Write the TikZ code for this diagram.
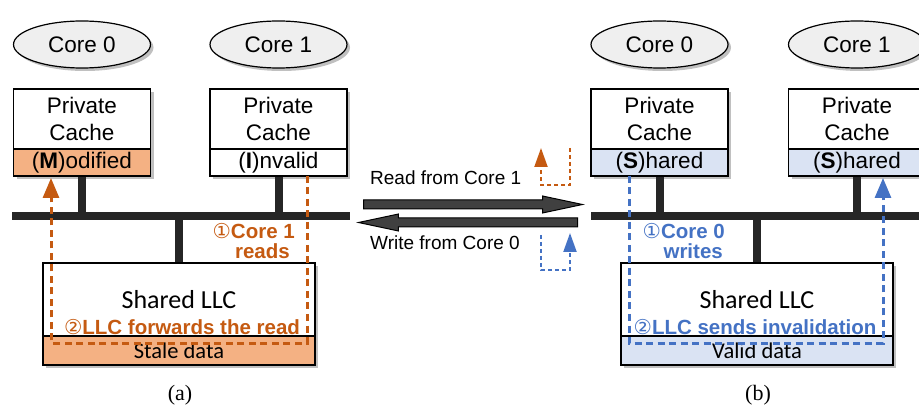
\documentclass[tikz,border=0pt]{standalone}
\usepackage{fontspec}
\setmainfont{Liberation Sans}
\newfontfamily\llcfont{Carlito}
\newfontfamily\capfont{Liberation Serif}
\newfontfamily\numfont{DejaVu Sans}
\usetikzlibrary{arrows.meta}
\usetikzlibrary{shapes.geometric}
\usetikzlibrary{shapes.arrows}
\usetikzlibrary{shadows}
\usetikzlibrary{positioning}

\definecolor{ordark}{HTML}{C55A11}
\definecolor{orfill}{HTML}{F4B183}
\definecolor{bldark}{HTML}{4472C4}
\definecolor{blfill}{HTML}{DAE3F3}
\definecolor{coregray}{HTML}{EFEFEF}
\definecolor{busgray}{HTML}{262626}
\definecolor{fatgray}{HTML}{404040}

\newcommand{\circnum}[1]{\raisebox{0pt}[\height][0pt]{\numfont\mdseries #1}}

\begin{document}
\begin{tikzpicture}[x=1pt,y=-1pt,
  >={Triangle[length=20pt,width=16pt]},
  shade/.style={drop shadow={shadow xshift=3pt,shadow yshift=-3pt,fill=black!45,opacity=.55}},
  core/.style={ellipse,draw,line width=1.2pt,fill=coregray,minimum width=137pt,minimum height=47pt,inner sep=0pt,font=\fontsize{22.5}{27}\selectfont,shade},
  cache/.style={rectangle,draw,line width=1.6pt,fill=white,minimum width=137pt,minimum height=60pt,inner sep=0pt,align=center,font=\fontsize{22.5}{27}\selectfont,shade},
  state/.style={rectangle,draw,line width=1.6pt,minimum width=137pt,minimum height=27pt,inner sep=0pt,font=\fontsize{22.5}{27}\selectfont,shade},
  llc/.style={rectangle,draw,line width=1.6pt,fill=white,minimum width=272pt,minimum height=73pt,inner sep=0pt,font=\llcfont\fontsize{26}{30}\selectfont,shade},
  llcdata/.style={rectangle,draw,line width=1.6pt,minimum width=272pt,minimum height=29pt,inner sep=0pt,font=\llcfont\fontsize{22.5}{26}\selectfont,shade},
  bus/.style={line width=8pt,color=busgray},
  fat/.style={single arrow,draw,line width=1pt,fill=fatgray,minimum height=219pt,minimum width=16pt,single arrow head extend=4pt,single arrow tip angle=24,single arrow head indent=0pt,inner xsep=0pt,inner ysep=4pt,anchor=tail},
  midtxt/.style={inner sep=0pt,font=\fontsize{19}{22}\selectfont},
  olab/.style={inner sep=0pt,text=ordark,font=\bfseries\fontsize{20.5}{24}\selectfont},
  blab/.style={inner sep=0pt,text=bldark,font=\bfseries\fontsize{20.5}{24}\selectfont},
  ordash/.style={ordark,line width=3pt,dash pattern=on 7pt off 4.5pt},
  bldash/.style={bldark,line width=3pt,dash pattern=on 7pt off 4.5pt},
  thindash/.style={line width=2pt,dash pattern=on 4pt off 3pt},
  capt/.style={inner sep=0pt,font=\capfont\fontsize{22}{26}\selectfont}]
  \clip (0,0) rectangle (919,406);

  % cores with their private caches
  \foreach \n/\x/\k/\st/\col in {c0a/82/0/{(\textbf{M})odified}/orfill,c1a/278.5/1/{(\textbf{I})nvalid}/white,c0b/659.5/0/{(\textbf{S})hared}/blfill,c1b/857/1/{(\textbf{S})hared}/blfill}
  {
    \node[core] (core-\n) at (\x,44.5) {Core \k};
    \node[cache] (pc-\n) at (\x,119) {Private\\Cache};
    \node[state,fill=\col] (st-\n) at (\x,162.5) {\st};
  }

  % buses
  \foreach \p/\xa/\xb in {a/12/350,b/591/935}
    \draw[bus] (\xa,216) coordinate (bus\p-w) -- (\xb,216) coordinate (bus\p-e);
  \foreach \n/\p in {c0a/a,c1a/a,c0b/b,c1b/b}
    \draw[bus] (st-\n.south) -- (st-\n.south |- bus\p-w);

  % shared LLC
  \foreach \p/\x/\txt/\col in {a/179/Stale data/orfill,b/757/Valid data/blfill}
  {
    \node[llc] (llc\p) at (\x,299.5) {Shared LLC};
    \node[llcdata,fill=\col] (dat\p) at (\x,350.5) {\txt};
    \draw[bus] (llc\p.north) -- (llc\p.north |- bus\p-w);
  }

  % transition between (a) and (b)
  \node[fat] (rdarr) at (363,204.5) {};
  \node[fat,shape border rotate=180] (wrarr) at (578,222.5) {};
  \node[midtxt,anchor=west] (rdtxt) at (370,178) {Read from Core 1};
  \node[midtxt,anchor=west] (wrtxt) at (370,243) {Write from Core 0};
  \coordinate (ro-s) at (570,148);
  \coordinate (ro-e) at (541,148);
  \coordinate (bl-s) at (541,235);
  \coordinate (bl-e) at (570,233);
  \draw[thindash,ordark,-{Triangle[length=19pt,width=13pt]}] (ro-s) -- ++(0,37) -| (ro-e);
  \draw[thindash,bldark,-{Triangle[length=19pt,width=13pt]}] (bl-s) -- ++(0,35) -| (bl-e);

  % message paths
  \coordinate (rd-s) at (307,176);
  \coordinate (rd-e) at (51,178);
  \coordinate (wr-s) at (629,176);
  \coordinate (wr-e) at (883,178);
  \draw[ordash,->] (rd-s) -- ++(0,167) -| (rd-e);
  \draw[bldash,->] (wr-s) -- ++(0,167) -| (wr-e);

  \node[olab,anchor=base east] (rdlab) at (295,239) {\circnum{①}Core 1};
  \node[olab,anchor=base east] (rdlab2) at (290,259) {reads};
  \node[blab,anchor=base east] (wrlab) at (725,239) {\circnum{①}Core 0};
  \node[blab,anchor=base east] (wrlab2) at (723,259) {writes};
  \node[olab] (fwlab) at (182,327) {\circnum{②}LLC forwards the read};
  \node[blab] (invlab) at (755,327) {\circnum{②}LLC sends invalidation};

  \node[capt] (capa) at (180,395) {(a)};
  \node[capt] (capb) at (758,395) {(b)};
\end{tikzpicture}
\end{document}
